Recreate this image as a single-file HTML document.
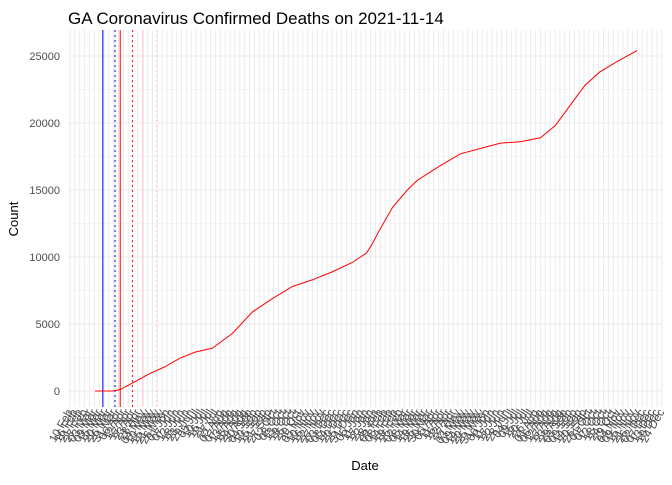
<!DOCTYPE html>
<html><head><meta charset="utf-8"><style>
body{margin:0;background:#fff;font-family:"Liberation Sans",sans-serif;}
svg text{font-family:"Liberation Sans",sans-serif;}
</style></head><body>
<svg id="chart" width="672" height="480" xmlns="http://www.w3.org/2000/svg">
<text x="68" y="24" font-size="17" fill="#000">GA Coronavirus Confirmed Deaths on 2021-11-14</text>
<text x="365" y="470" font-size="13" text-anchor="middle" fill="#000">Date</text>
<text transform="translate(18,219) rotate(-90)" font-size="13" text-anchor="middle" fill="#000">Count</text>
<g id="grid"></g><g id="vlines"></g><g id="yticks"></g><g id="xticks"></g><g id="series"></g>
</svg>
<script>
const days=[0,20,29,46,63,80,98,115,135,158,181,204,227,250,273,296,312,318,327,342,359,370,394,420,443,466,489,512,529,546,563,580,603,623];
const deaths=[0,0,100,700,1300,1800,2460,2900,3200,4300,5900,6900,7800,8300,8900,9600,10300,10900,12000,13700,15000,15700,16700,17700,18100,18500,18600,18900,19800,21300,22800,23800,24700,25400];
const yTicks=[0,5000,10000,15000,20000,25000];
const markerDays=[9,23,29,43,55,71];
const markerColors=["#0000ff","#0000ff","#ff0000","#ff0000","#ffc0cb","#ffc0cb"];
const markerDash=["","2,3","","2,3","","2,3"];
const NS="http://www.w3.org/2000/svg";
const X0=68,X1=662,Y0=30,Y1=407;
const x=d=>95+d*(542/623);
const y=v=>391-v*(335/25000);
function mk(t,a,p){const e=document.createElementNS(NS,t);for(const k in a)e.setAttribute(k,a[k]);p.appendChild(e);return e;}
const grid=document.getElementById('grid');
for(let v=-2500;v<=26000;v+=2500){const yy=y(v);if(yy<Y0||yy>Y1)continue;
 const l=mk('line',{x1:X0,x2:X1,y1:yy,y2:yy,stroke:'#ebebeb','stroke-width':v%5000===0?1.1:0.6},grid);
 
 }
const months=["Jan","Feb","Mar","Apr","May","Jun","Jul","Aug","Sep","Oct","Nov","Dec"];
const xt=document.getElementById('xticks');
let n=0;
for(let gx=70;gx<=662;gx+=4.85){
 const l=mk('line',{x1:gx,x2:gx,y1:Y0,y2:Y1,stroke:'#ebebeb','stroke-width':1},grid);
 
 
 const dt=new Date(2020,1,10+Math.round(n*5.6));n++;
 const t=mk('text',{transform:`translate(${gx+3},${412}) rotate(-60)`,'font-size':'11.5','text-anchor':'end',fill:'#4d4d4d'},xt);
 t.textContent=String(dt.getDate()).padStart(2,'0')+' '+months[dt.getMonth()];
 
 }
const yt=document.getElementById('yticks');
yTicks.forEach(v=>{const t=mk('text',{x:60,y:y(v)+4,'font-size':'11','text-anchor':'end',fill:'#4d4d4d'},yt);t.textContent=v;
 
 });
const vl=document.getElementById('vlines');
markerDays.forEach((d,i)=>{const a={x1:x(d),x2:x(d),y1:Y0,y2:Y1,stroke:markerColors[i],'stroke-width':1};if(markerDash[i])a['stroke-dasharray']=markerDash[i];
 const l=mk('line',a,vl);
 
 });
const p=mk('polyline',{points:days.map((d,i)=>x(d)+','+y(deaths[i])).join(' '),fill:'none',stroke:'#ff0000','stroke-width':1},document.getElementById('series'));


</script>
</body></html>
